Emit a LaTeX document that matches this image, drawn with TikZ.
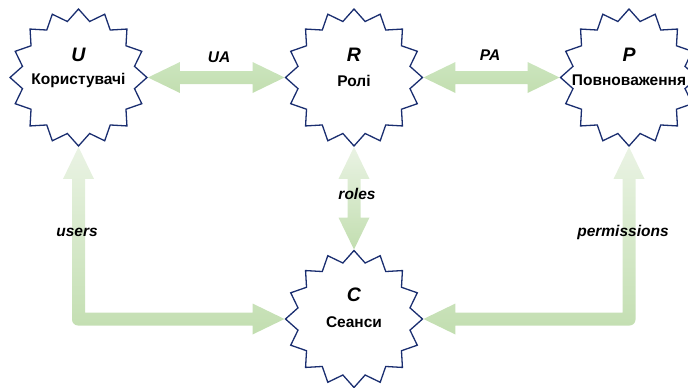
\documentclass[tikz,border=0pt]{standalone}
\usepackage{fontspec}
\setmainfont{Liberation Sans}
\usetikzlibrary{shapes.geometric,calc,backgrounds}
\definecolor{starline}{RGB}{26,46,112}
\definecolor{gdark}{RGB}{194,222,176}
\definecolor{gmid}{RGB}{204,229,190}
\definecolor{glight}{RGB}{234,243,228}

% arrow geometry: head length, head half-width, shaft half-width
\def\hl{32}
\def\hw{15.5}
\def\sw{6.5}

\begin{document}
\begin{tikzpicture}[x=1pt,y=-1pt,
  burst/.style={star, star points=16, star point ratio=1.2, minimum size=137pt,
    inner sep=0pt, draw=starline, line width=1.3pt, fill=white},
  lettersty/.style={font=\fontsize{19.5}{20}\selectfont\bfseries\itshape},
  entname/.style={font=\fontsize{15.5}{16}\selectfont\bfseries},
  elabel/.style={font=\fontsize{15.5}{16}\selectfont\bfseries\itshape},
]
\useasboundingbox (0,0) rectangle (688,388);

% the four entities
\node[burst] (U) at (78.5,77.5) {};
\node[burst] (R) at (354,77.5) {};
\node[burst] (P) at (629,77.5) {};
\node[burst] (C) at (354,319) {};

\node[lettersty] (Ut) at ($(U)+(0,-23)$) {U};
\node[entname]   (Un) at ($(U)+(0,3)$) {Користувачі};
\node[lettersty] (Rt) at ($(R)+(0,-23)$) {R};
\node[entname]   (Rn) at ($(R)+(0,3)$) {Ролі};
\node[lettersty] (Pt) at ($(P)+(0,-23)$) {P};
\node[entname]   (Pn) at ($(P)+(0,3)$) {Повноваження};
\node[lettersty] (Ct) at ($(C)+(0,-24)$) {C};
\node[entname]   (Cn) at ($(C)+(0,3)$) {Сеанси};

% relation labels
\node[elabel] (lUA) at (219,57) {UA};
\node[elabel] (lPA) at (490,55) {PA};
\node[elabel] (lro) at (357,194) {roles};
\node[elabel] (lus) at (77,232) {users};
\node[elabel] (lpe) at (623,232) {permissions};

\begin{scope}[on background layer]
% U <-> R
\shade[top color=gmid, bottom color=gdark]
  (U.east) -- ($(U.east)+(\hl,-\hw)$) -- ($(U.east)+(\hl,-\sw)$)
  -- ($(R.west)+(-\hl,-\sw)$) -- ($(R.west)+(-\hl,-\hw)$) -- (R.west)
  -- ($(R.west)+(-\hl,\hw)$) -- ($(R.west)+(-\hl,\sw)$)
  -- ($(U.east)+(\hl,\sw)$) -- ($(U.east)+(\hl,\hw)$) -- cycle;
% R <-> P
\shade[top color=gmid, bottom color=gdark]
  (R.east) -- ($(R.east)+(\hl,-\hw)$) -- ($(R.east)+(\hl,-\sw)$)
  -- ($(P.west)+(-\hl,-\sw)$) -- ($(P.west)+(-\hl,-\hw)$) -- (P.west)
  -- ($(P.west)+(-\hl,\hw)$) -- ($(P.west)+(-\hl,\sw)$)
  -- ($(R.east)+(\hl,\sw)$) -- ($(R.east)+(\hl,\hw)$) -- cycle;
% R <-> C
\shade[top color=glight, bottom color=gdark]
  (R.south) -- ($(R.south)+(\hw,\hl)$) -- ($(R.south)+(\sw,\hl)$)
  -- ($(C.north)+(\sw,-\hl)$) -- ($(C.north)+(\hw,-\hl)$) -- (C.north)
  -- ($(C.north)+(-\hw,-\hl)$) -- ($(C.north)+(-\sw,-\hl)$)
  -- ($(R.south)+(-\sw,\hl)$) -- ($(R.south)+(-\hw,\hl)$) -- cycle;
% U <-> C, bent
\coordinate (ku) at (U.south |- C.west);
\shade[top color=glight, bottom color=gdark]
  (U.south) -- ($(U.south)+(\hw,\hl)$) -- ($(U.south)+(\sw,\hl)$)
  -- ($(ku)+(\sw,-\sw)$)
  -- ($(C.west)+(-\hl,-\sw)$) -- ($(C.west)+(-\hl,-\hw)$) -- (C.west)
  -- ($(C.west)+(-\hl,\hw)$) -- ($(C.west)+(-\hl,\sw)$)
  [rounded corners=6pt] -- ($(ku)+(-\sw,\sw)$) [sharp corners]
  -- ($(U.south)+(-\sw,\hl)$) -- ($(U.south)+(-\hw,\hl)$) -- cycle;
% P <-> C, bent
\coordinate (kp) at (P.south |- C.east);
\shade[top color=glight, bottom color=gdark]
  (P.south) -- ($(P.south)+(-\hw,\hl)$) -- ($(P.south)+(-\sw,\hl)$)
  -- ($(kp)+(-\sw,-\sw)$)
  -- ($(C.east)+(\hl,-\sw)$) -- ($(C.east)+(\hl,-\hw)$) -- (C.east)
  -- ($(C.east)+(\hl,\hw)$) -- ($(C.east)+(\hl,\sw)$)
  [rounded corners=6pt] -- ($(kp)+(\sw,\sw)$) [sharp corners]
  -- ($(P.south)+(\sw,\hl)$) -- ($(P.south)+(\hw,\hl)$) -- cycle;
\end{scope}
\end{tikzpicture}
\end{document}
